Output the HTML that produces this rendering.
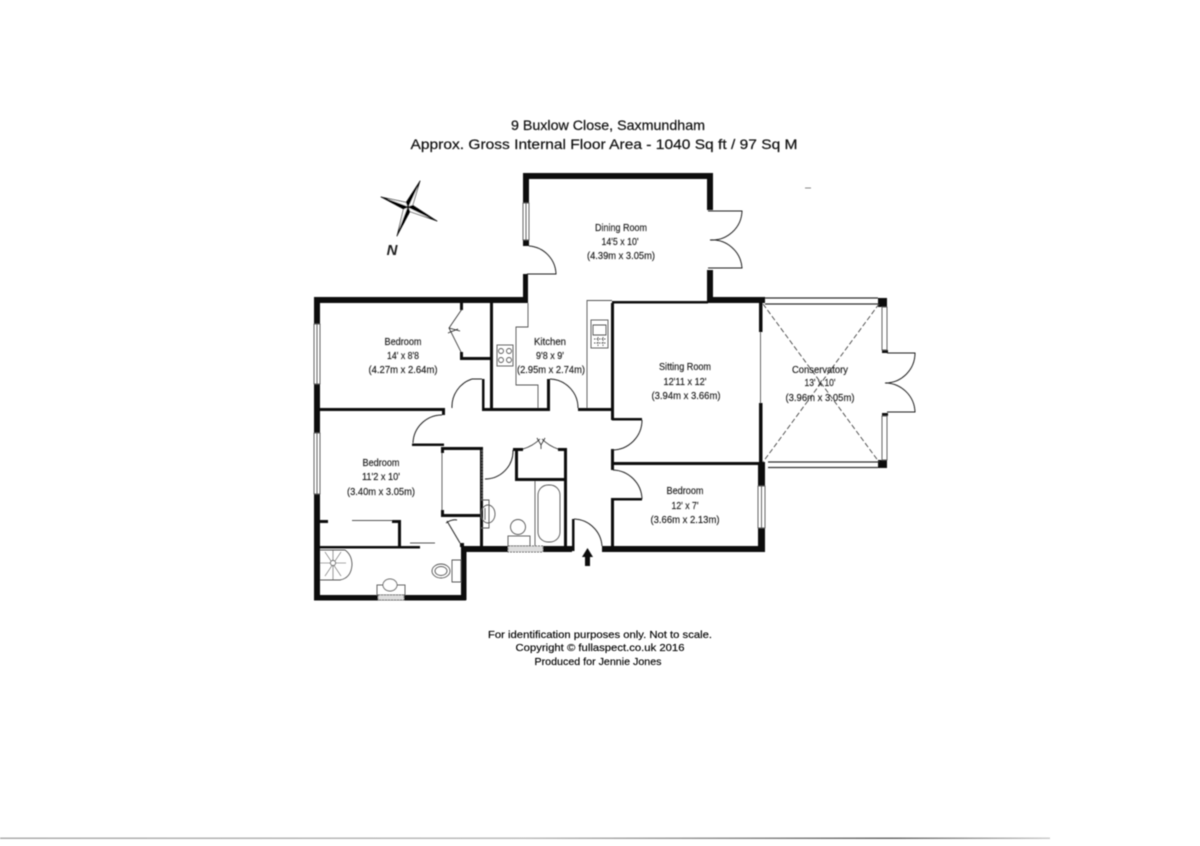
<!DOCTYPE html>
<html><head><meta charset="utf-8"><style>
html,body{margin:0;padding:0;background:#fff;width:1200px;height:846px;overflow:hidden}
svg{display:block}
text{font-family:"Liberation Sans",sans-serif;fill:#222;text-anchor:middle}
.r{font-size:10.5px;fill:#222;stroke:#222;stroke-width:.18}
.f{font-size:10.5px;fill:#000;stroke:#000;stroke-width:.15}
.t{font-size:14px;fill:#111;stroke:#111;stroke-width:.2}
</style></head><body>
<svg width="1200" height="846" viewBox="0 0 1200 846" xmlns="http://www.w3.org/2000/svg">
<defs><filter id="b" x="-2%" y="-2%" width="104%" height="104%"><feGaussianBlur stdDeviation="0.45"/></filter>
<linearGradient id="g" x1="0" x2="1"><stop offset="0" stop-color="#aaa"/><stop offset=".5" stop-color="#bbb"/><stop offset=".85" stop-color="#666"/><stop offset="1" stop-color="#ccc"/></linearGradient></defs>
<rect width="1200" height="846" fill="#fff"/>
<g filter="url(#b)">
<text class="t" x="608" y="130" textLength="194" lengthAdjust="spacingAndGlyphs">9 Buxlow Close, Saxmundham</text>
<text class="t" x="604" y="149" textLength="387" lengthAdjust="spacingAndGlyphs">Approx. Gross Internal Floor Area - 1040 Sq ft / 97 Sq M</text>

<!-- compass -->
<g stroke="#111" stroke-width=".7" stroke-linejoin="round">
<path d="M420 181L412.700 205.300L408 207Z" fill="#fff"/><path d="M420 181L406.100 202.400L408 207Z" fill="#000"/>
<path d="M437 221L409.900 211.600L408 207Z" fill="#fff"/><path d="M437 221L412.700 205.300L408 207Z" fill="#000"/>
<path d="M397 236L403.500 209.100L408 207Z" fill="#fff"/><path d="M397 236L409.900 211.600L408 207Z" fill="#000"/>
<path d="M381 197L406.100 202.400L408 207Z" fill="#fff"/><path d="M381 197L403.500 209.100L408 207Z" fill="#000"/>
</g>
<text x="392" y="255" style="font-size:15px;font-style:italic;font-weight:bold;fill:#222">N</text>

<!-- thick walls -->
<g fill="#111">
<rect x="523" y="173" width="190" height="6"/><rect x="523" y="173" width="6" height="30"/><rect x="523" y="240" width="6" height="6"/>
<rect x="523" y="274" width="5" height="29"/><rect x="707" y="173" width="6" height="37"/><rect x="707" y="270" width="6" height="33"/>
<rect x="314" y="297" width="214" height="6"/><rect x="707" y="297" width="58" height="6"/><rect x="612" y="301" width="96" height="2.500"/>
<rect x="314" y="297" width="6" height="27"/><rect x="314" y="384" width="6" height="49"/><rect x="314" y="494" width="6" height="106"/>
<rect x="314" y="595" width="152" height="5.500"/><rect x="461" y="547" width="5.500" height="53"/>
<rect x="461" y="546" width="47" height="6"/><rect x="543" y="546" width="29" height="6"/><rect x="602" y="546" width="163" height="6"/>
<rect x="320" y="408" width="125" height="3"/><rect x="442" y="408" width="3" height="7"/>
<rect x="412" y="443.500" width="32" height="2.500"/><rect x="441" y="447" width="42" height="3"/><rect x="441" y="447" width="3" height="6"/>
<rect x="480" y="447" width="3" height="100"/><rect x="441" y="514" width="40" height="3"/><rect x="441" y="510" width="3" height="6"/>
<rect x="320" y="520" width="8" height="3"/><rect x="392" y="520" width="9" height="3"/><rect x="398" y="520" width="3" height="27"/><rect x="320" y="546" width="100" height="2.500"/>
<rect x="460" y="543" width="4" height="4"/>
<rect x="482" y="379" width="2.500" height="31"/><rect x="490" y="303" width="3" height="107"/><rect x="482" y="408" width="68" height="3"/>
<rect x="547" y="379" width="3" height="31"/><rect x="578" y="408" width="35" height="3"/>
<rect x="460" y="303" width="3" height="7"/><rect x="460" y="352" width="3" height="7"/><rect x="460" y="357" width="32" height="3"/>
<rect x="611" y="303" width="3" height="117"/><rect x="612" y="418" width="30" height="2.500"/><rect x="611" y="449" width="3" height="21"/>
<rect x="612" y="462" width="150" height="3"/><rect x="611" y="498" width="31" height="2.500"/><rect x="611" y="499" width="3" height="48"/>
<rect x="759" y="303" width="3.500" height="29"/><rect x="759" y="403" width="3.500" height="62"/>
<rect x="758" y="462" width="7" height="24"/><rect x="758" y="528" width="7" height="24"/>
<rect x="878" y="298" width="9" height="9"/><rect x="878" y="460" width="9" height="8"/>
<rect x="882" y="350" width="6" height="3"/><rect x="882" y="413" width="6" height="3"/>
<rect x="564" y="448" width="3" height="99"/><rect x="513" y="448" width="10" height="3"/><rect x="558" y="448" width="9" height="3"/>
<rect x="515" y="448" width="3" height="33"/><rect x="515" y="478" width="50" height="3"/>
<rect x="572" y="519" width="2.500" height="32"/>
<path d="M582 557L587.500 548L593 557H590V566H585V557Z"/>
</g>

<!-- thin lines, arcs -->
<g fill="none" stroke="#222" stroke-width="1">
<path d="M529 246A29 29 0 0 1 556 274H527"/>
<path d="M708 211H742A30 30 0 0 1 710 240A30 30 0 0 1 742 268H708"/>
<path d="M887 353H915A30 30 0 0 1 885 383A30 30 0 0 1 915 412H887"/>
<path d="M482 379H472A29 29 0 0 0 452 408"/>
<path d="M550 379A29 29 0 0 1 578 408"/>
<path d="M413 443A29 29 0 0 1 442 415"/>
<path d="M485 479A28 28 0 0 0 513 450"/>
<path d="M642 420A30 30 0 0 1 612 450"/>
<path d="M613 470A30 30 0 0 1 642 499"/>
<path d="M574 519A29 29 0 0 1 602 546"/>
<path d="M446 523Q452 519 457 520M447 521L460 543"/>
<path d="M462 309L449 328L461 352M449 328L460 331M448 333L458 329" stroke-width=".8"/>
<path d="M523 449Q533 446 540 439M558 449Q549 446 542 439M537 438L541 445L545 438M541 445V449" stroke-width=".8"/>
</g>
<g fill="none" stroke="#555" stroke-width=".9">
<path d="M528 303V327H516V385H538V408"/>
<path d="M587 408V300.500H612"/>
<rect x="591" y="320" width="17" height="28"/><path d="M593 325H606V335H593Z"/><path d="M594 339H606M594 343H606M598 337V347M603 337V347" stroke-dasharray="1.500 1"/>
<rect x="497" y="345" width="16" height="21"/><circle cx="501" cy="351" r="2.500"/><circle cx="509" cy="351" r="2.500"/><circle cx="501" cy="360" r="2.500"/><circle cx="509" cy="360" r="2.500"/>
<!-- windows -->
<path d="M523 203H529V240H523ZM526 203V240"/>
<path d="M314 324H320V384H314ZM317 324V384"/>
<path d="M314 433H320V494H314ZM317 433V494"/>
<path d="M758 486H765V528H758ZM761.500 486V528"/>
<path d="M760.500 332V403"/>
<path d="M765 298H878M765 304H878" stroke="#333" stroke-width="1.200"/>
<path d="M768 462H878M768 467.500H878" stroke="#333" stroke-width="1.200"/>
<path d="M882 307H887V350H882Z"/>
<path d="M882 416H887V460H882Z"/>
<path d="M442 453V510"/><path d="M482 450V500" stroke-dasharray="2 1" stroke-width="1.500"/>
<path d="M352 520.500H392M410 543H435"/>
<path d="M535 481V546"/><rect x="538" y="485" width="22" height="57" rx="10"/>
<circle cx="518" cy="527" r="7.500"/><rect x="508" y="536" width="22" height="10"/>
<rect x="508" y="546" width="35" height="6" fill="#ddd" stroke-dasharray="2 1"/>
<path d="M481 500H489V528H481"/><ellipse cx="488" cy="514" rx="7" ry="9"/><path d="M485 508V520"/>
<path d="M320 550H345Q352 555 352 565Q351 578 340 580H320"/>
<path d="M320 563H346M333 550V580M325 552L341 576M341 552L325 576" stroke-width=".6"/>
<circle cx="333" cy="563" r="2.500" fill="#fff"/>
<rect x="377" y="585" width="28" height="10"/><ellipse cx="390" cy="585" rx="7" ry="6" fill="#fff"/>
<rect x="378" y="595" width="26" height="5" fill="#ddd" stroke-dasharray="2 1"/>
<path d="M452 560H461V582H452Z"/><ellipse cx="441" cy="571" rx="9" ry="7"/><ellipse cx="441" cy="571" rx="6" ry="4.500"/>
</g>
<path d="M763 304L879 462M879 304L763 462" fill="none" stroke="#444" stroke-width=".9" stroke-dasharray="5 2.500"/>

<!-- labels -->
<g class="rooms">
<text class="r" x="621" y="231" textLength="52" lengthAdjust="spacingAndGlyphs">Dining Room</text>
<text class="r" x="620" y="245" textLength="37" lengthAdjust="spacingAndGlyphs">14'5 x 10'</text>
<text class="r" x="621" y="259" textLength="68" lengthAdjust="spacingAndGlyphs">(4.39m x 3.05m)</text>
<text class="r" x="403" y="345" textLength="37" lengthAdjust="spacingAndGlyphs">Bedroom</text>
<text class="r" x="403" y="359" textLength="32" lengthAdjust="spacingAndGlyphs">14' x 8'8</text>
<text class="r" x="403" y="373" textLength="69" lengthAdjust="spacingAndGlyphs">(4.27m x 2.64m)</text>
<text class="r" x="550" y="345" textLength="32" lengthAdjust="spacingAndGlyphs">Kitchen</text>
<text class="r" x="550" y="359" textLength="28" lengthAdjust="spacingAndGlyphs">9'8 x 9'</text>
<text class="r" x="551" y="373" textLength="68" lengthAdjust="spacingAndGlyphs">(2.95m x 2.74m)</text>
<text class="r" x="685" y="370" textLength="52" lengthAdjust="spacingAndGlyphs">Sitting Room</text>
<text class="r" x="685" y="385" textLength="43" lengthAdjust="spacingAndGlyphs">12'11 x 12'</text>
<text class="r" x="686" y="399" textLength="69" lengthAdjust="spacingAndGlyphs">(3.94m x 3.66m)</text>
<text class="r" x="820" y="373" textLength="56" lengthAdjust="spacingAndGlyphs">Conservatory</text>
<text class="r" x="820" y="386" textLength="31" lengthAdjust="spacingAndGlyphs">13' x 10'</text>
<text class="r" x="820" y="401" textLength="69" lengthAdjust="spacingAndGlyphs">(3.96m x 3.05m)</text>
<text class="r" x="381" y="466" textLength="37" lengthAdjust="spacingAndGlyphs">Bedroom</text>
<text class="r" x="381" y="480" textLength="38" lengthAdjust="spacingAndGlyphs">11'2 x 10'</text>
<text class="r" x="381" y="495" textLength="68" lengthAdjust="spacingAndGlyphs">(3.40m x 3.05m)</text>
<text class="r" x="685" y="494" textLength="37" lengthAdjust="spacingAndGlyphs">Bedroom</text>
<text class="r" x="685" y="509" textLength="27" lengthAdjust="spacingAndGlyphs">12' x 7'</text>
<text class="r" x="685" y="523" textLength="69" lengthAdjust="spacingAndGlyphs">(3.66m x 2.13m)</text>
</g>
<text class="f" x="600" y="638" textLength="224" lengthAdjust="spacingAndGlyphs">For identification purposes only. Not to scale.</text>
<text class="f" x="600" y="651" textLength="169" lengthAdjust="spacingAndGlyphs">Copyright © fullaspect.co.uk 2016</text>
<text class="f" x="598" y="665" textLength="127" lengthAdjust="spacingAndGlyphs">Produced for Jennie Jones</text>
<rect x="805" y="187.500" width="6" height="1" fill="#888"/>
<rect x="0" y="837.500" width="1050" height="1.500" fill="url(#g)"/>
</g>
</svg>
</body></html>
